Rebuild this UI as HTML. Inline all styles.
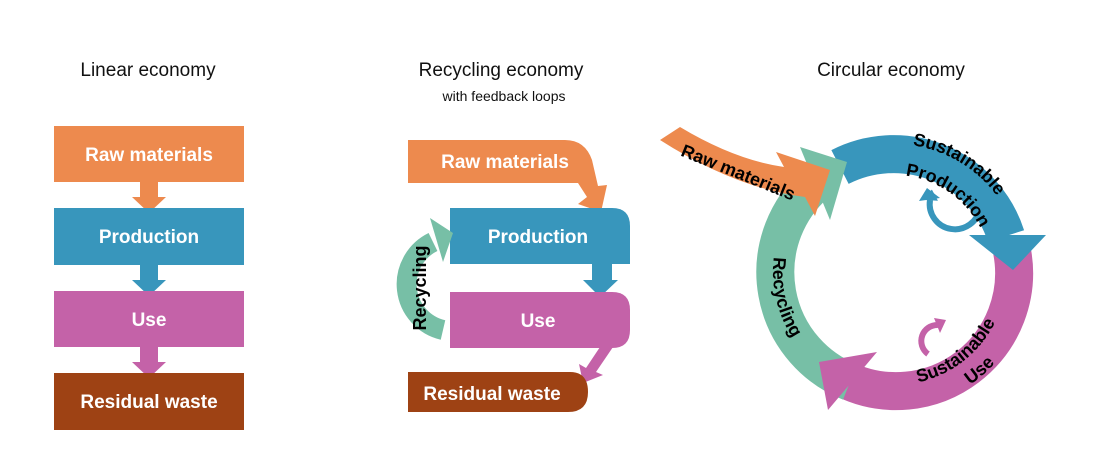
<!DOCTYPE html>
<html><head><meta charset="utf-8"><style>
html,body{margin:0;padding:0;background:#fff;}
svg{display:block;}
text{font-family:"Liberation Sans",sans-serif;}
.t{font-size:19px;fill:#111;}
.w{font-size:19px;font-weight:bold;fill:#fff;}
.b{font-size:18px;font-weight:bold;fill:#000;}
</style></head><body>
<svg width="1099" height="464" viewBox="0 0 1099 464" xmlns="http://www.w3.org/2000/svg">
<!-- titles -->
<text class="t" x="148" y="76" text-anchor="middle">Linear economy</text>
<text class="t" x="501" y="76" text-anchor="middle">Recycling economy</text>
<text x="504" y="101" text-anchor="middle" style="font-size:14px;fill:#111">with feedback loops</text>
<text class="t" x="891" y="76" text-anchor="middle">Circular economy</text>

<!-- Linear -->
<rect x="54" y="126" width="190" height="56" fill="#ED8A4E"/>
<polygon points="140,182 158,182 158,197 166,197 149,213 132,197 140,197" fill="#ED8A4E"/>
<rect x="54" y="208" width="190" height="57" fill="#3896BC"/>
<polygon points="140,265 158,265 158,280 166,280 149,296 132,280 140,280" fill="#3896BC"/>
<rect x="54" y="291" width="190" height="56" fill="#C462A8"/>
<polygon points="140,347 158,347 158,362 166,362 149,378 132,362 140,362" fill="#C462A8"/>
<rect x="54" y="373" width="190" height="57" fill="#9E4214"/>
<text class="w" x="149" y="161" text-anchor="middle">Raw materials</text>
<text class="w" x="149" y="243" text-anchor="middle">Production</text>
<text class="w" x="149" y="326" text-anchor="middle">Use</text>
<text class="w" x="149" y="408" text-anchor="middle">Residual waste</text>

<!-- Recycling economy -->
<path d="M408,140 H565 Q585,140 592,160 L598,186 L607,185 L601,212 L578,204 L587,197 L578,183 H408 Z" fill="#ED8A4E"/>
<path d="M450,208 H612 Q630,208 630,226 V264 H450 Z" fill="#3896BC"/>
<polygon points="592,263 612,263 612,280 618,280 600,297 583,280 592,280" fill="#3896BC"/>
<path d="M450,292 H612 Q630,292 630,310 V330 Q630,348 612,348 H450 Z" fill="#C462A8"/>
<path d="M600,347 L613,347 L596,372 L603,375 L583,383 L579,364 L586,368 Z" fill="#C462A8"/>
<path d="M408,372 H570 Q588,372 588,392 Q588,412 568,412 H408 Z" fill="#9E4214"/>
<path d="M443,330 A47,47 0 0 1 433,242" fill="none" stroke="#77BFA6" stroke-width="20"/>
<polygon points="430,218 453,233 443,262" fill="#77BFA6"/>
<text class="w" x="505" y="168" text-anchor="middle">Raw materials</text>
<text class="w" x="538" y="243" text-anchor="middle">Production</text>
<text class="w" x="538" y="327" text-anchor="middle">Use</text>
<text class="w" x="492" y="400" text-anchor="middle">Residual waste</text>
<text class="b" transform="translate(426,288) rotate(-90)" text-anchor="middle">Recycling</text>

<!-- Circular -->
<defs>
<path id="pS1" d="M871.8,145.9 A128,128 0 0 1 1015.7,232.4"/>
<path id="pP" d="M885.5,175.4 A97,97 0 0 1 987.7,246.9"/>
<path id="pS2" d="M890.1,384.9 A113,113 0 0 0 1004.5,295.5"/>
<path id="pU" d="M942.7,399.0 A136,136 0 0 0 1012.9,337.9"/>
<path id="pR" d="M816.2,179.3 A121,121 0 0 0 864.7,389.4"/>
</defs>
<!-- magenta arc -->
<path d="M1012,251 A118,118 0 0 1 844,379" fill="none" stroke="#C462A8" stroke-width="38"/>
<!-- blue arc -->
<path d="M840,167 A118,118 0 0 1 1006,236" fill="none" stroke="#3896BC" stroke-width="38"/>
<polygon points="969,235 1046,235 1013,270" fill="#3896BC"/>
<!-- green arc -->
<path d="M850,382 A118,118 0 0 1 815,184" fill="none" stroke="#77BFA6" stroke-width="38"/>
<polygon points="800,147 847,162 830,220" fill="#77BFA6"/>
<!-- magenta head -->
<polygon points="877,352 819,362 828,410" fill="#C462A8"/>
<!-- orange -->
<path d="M680,127 Q735,160 784,167 L776,152 L830,170 L815,216 L805,197 Q735,188 660,140 Z" fill="#ED8A4E"/>
<!-- small loops -->
<path d="M980,208 A17,17 0 0 1 930,200" fill="none" stroke="#3896BC" stroke-width="6"/>
<polygon points="920,198 933,190 937,202" fill="#3896BC" transform="rotate(-10 930 196)"/>
<polygon points="919,201 927,188 940,198" fill="#3896BC"/>
<path d="M928,354 A16,16 0 0 1 938,325" fill="none" stroke="#C462A8" stroke-width="6"/>
<polygon points="934,318 946,320 940,333" fill="#C462A8"/>
<!-- circular text -->
<text class="b"><textPath href="#pS1" startOffset="50%" text-anchor="middle">Sustainable</textPath></text>
<text class="b"><textPath href="#pP" startOffset="50%" text-anchor="middle">Production</textPath></text>
<text class="b"><textPath href="#pS2" startOffset="50%" text-anchor="middle">Sustainable</textPath></text>
<text class="b"><textPath href="#pU" startOffset="50%" text-anchor="middle">Use</textPath></text>
<text class="b"><textPath href="#pR" startOffset="50%" text-anchor="middle">Recycling</textPath></text>
<text class="b" transform="translate(736,178) rotate(22)" text-anchor="middle">Raw materials</text>
</svg>
</body></html>
